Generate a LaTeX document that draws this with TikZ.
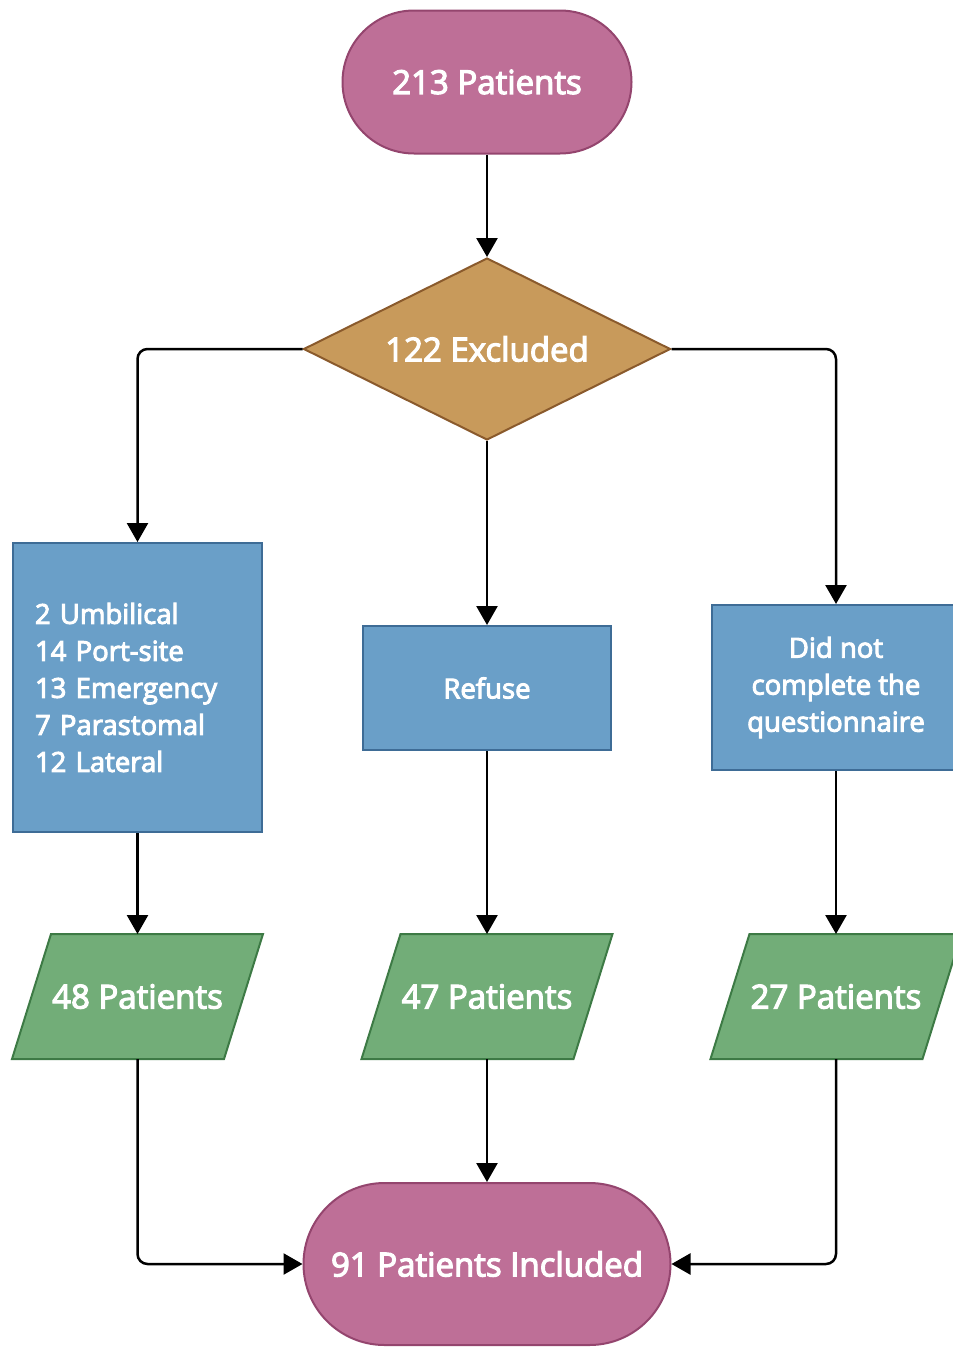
\documentclass[tikz,border=0pt]{standalone}
\usepackage{fontspec}
\setmainfont{Open Sans}[UprightFeatures={FakeBold=3.5}]
\usetikzlibrary{shapes.geometric,arrows.meta,backgrounds}
\definecolor{pinkfill}{HTML}{BE6F97}
\definecolor{pinkdraw}{HTML}{94456E}
\definecolor{tanfill}{HTML}{C89A5B}
\definecolor{tandraw}{HTML}{8A5A2C}
\definecolor{bluefill}{HTML}{6A9FC8}
\definecolor{bluedraw}{HTML}{3E6C96}
\definecolor{greenfill}{HTML}{72AD78}
\definecolor{greendraw}{HTML}{3D7A45}
\tikzset{
  x=1pt,y=1pt,
  base/.style={text=white, line width=2pt, inner sep=0pt},
  term/.style={base, fill=pinkfill, draw=pinkdraw, font=\fontsize{33}{37}\selectfont},
  decide/.style={base, diamond, shape aspect=2.02, fill=tanfill, draw=tandraw, font=\fontsize{33}{37}\selectfont},
  procbox/.style={base, rectangle, fill=bluefill, draw=bluedraw, font=\fontsize{27.5}{37}\selectfont},
  datacore/.style={base, rectangle, minimum width=210pt, minimum height=123pt, font=\fontsize{33}{37}\selectfont},
  datashape/.style={fill=greenfill, draw=greendraw, line width=2pt},
  conn/.style={line width=2.5pt, rounded corners=10pt, -{Triangle[width=21pt,length=19pt]}},
}
\begin{document}
\begin{tikzpicture}
\useasboundingbox (0,0) rectangle (953,-1347);
\node[term, minimum width=289pt, minimum height=143pt, rounded corners=71.5pt] (start) at (487,-82) {213 Patients};
\node[decide, minimum width=367pt, minimum height=182pt] (excl) at (487,-349) {122 Excluded};
\node[procbox, minimum width=249pt, minimum height=289pt, text width=205pt, align=left] (b1) at (137.5,-687.5)
  {2 Umbilical\\14 Port-site\\13 Emergency\\7 Parastomal\\12 Lateral};
\node[procbox, minimum width=248pt, minimum height=124pt] (b2) at (487,-688) {Refuse};
\node[procbox, minimum width=248pt, minimum height=165pt, align=center] (b3) at (836,-687.5)
  {Did not\\complete the\\questionnaire};
\node[datacore] (p1) at (137.5,-996.5) {48 Patients};
\node[datacore] (p2) at (487,-996.5) {47 Patients};
\node[datacore] (p3) at (836,-996.5) {27 Patients};
\begin{scope}[on background layer]
\foreach \p in {p1,p2,p3}
  \draw[datashape] ([xshift=-19.5pt]\p.south west) -- ([xshift=19.5pt]\p.north west)
    -- ([xshift=19.5pt]\p.north east) -- ([xshift=-19.5pt]\p.south east) -- cycle;
\end{scope}
\node[term, minimum width=367pt, minimum height=162pt, rounded corners=81pt] (end) at (487,-1264) {91 Patients Included};
\draw[conn] (start) -- (excl);
\draw[conn] (excl.west) -| (b1.north);
\draw[conn] (excl) -- (b2);
\draw[conn] (excl.east) -| (b3.north);
\draw[conn] (b1) -- (p1);
\draw[conn] (b2) -- (p2);
\draw[conn] (b3) -- (p3);
\draw[conn] (p1.south) |- (end.west);
\draw[conn] (p2) -- (end);
\draw[conn] (p3.south) |- (end.east);
\end{tikzpicture}
\end{document}
